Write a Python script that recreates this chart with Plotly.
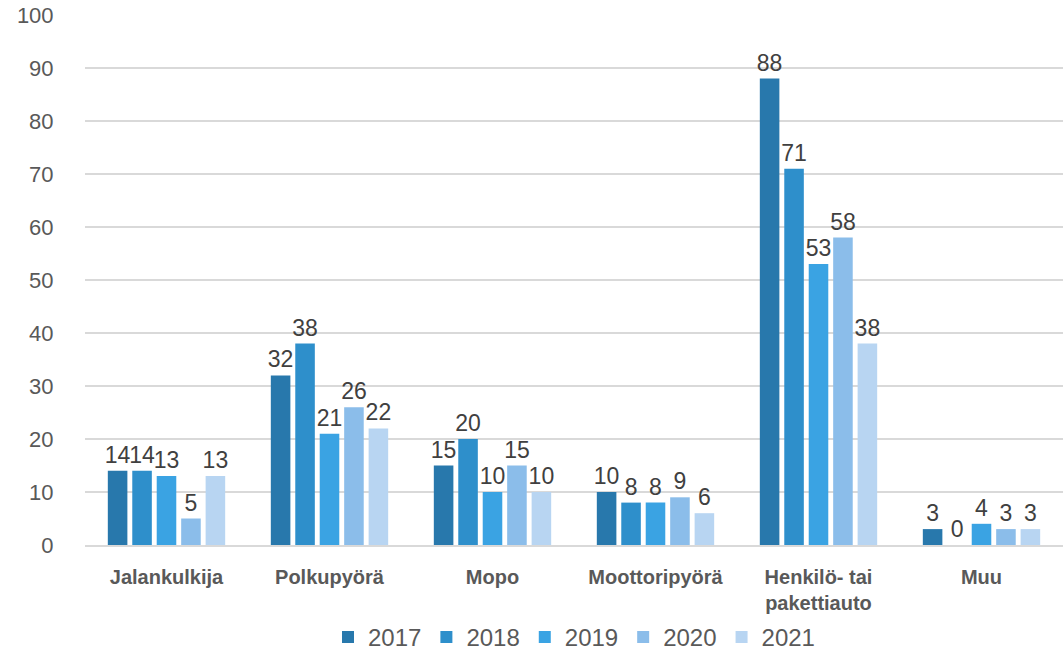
import plotly.graph_objects as go

categories = ["Jalankulkija", "Polkupyörä", "Mopo", "Moottoripyörä", "Henkilö- tai<br>pakettiauto", "Muu"]
years = ["2017", "2018", "2019", "2020", "2021"]
values = {
    "2017": [14, 32, 15, 10, 88, 3],
    "2018": [14, 38, 20, 8, 71, 0],
    "2019": [13, 21, 10, 8, 53, 4],
    "2020": [5, 26, 15, 9, 58, 3],
    "2021": [13, 22, 10, 6, 38, 3],
}
colors = ["#2878AC", "#2E8FCB", "#3AA3E3", "#8BBDEA", "#B8D5F2"]

FONT = "Liberation Sans, Arial, sans-serif"

fig = go.Figure()
for y, c in zip(years, colors):
    fig.add_trace(go.Bar(
        x=categories, y=values[y], name=y,
        marker=dict(color=c, line=dict(width=0)),
        text=[str(v) for v in values[y]], textposition="outside",
        constraintext="none",
        textfont=dict(size=23, color="#404040", family=FONT),
        cliponaxis=False,
    ))

fig.update_layout(
    width=1063, height=653,
    barmode="group", bargap=0.25, bargroupgap=0.2,
    plot_bgcolor="white", paper_bgcolor="white",
    font=dict(family=FONT, color="#595959"),
    margin=dict(l=85, r=0, t=15, b=108),
    legend=dict(orientation="h", x=0.5, xanchor="center",
                yref="container", y=0.024, yanchor="middle",
                bgcolor="rgba(0,0,0,0)",
                font=dict(size=24, color="#595959"), traceorder="normal",
                itemwidth=30),
)
fig.update_yaxes(range=[0, 100], dtick=10, showgrid=True, gridcolor="#D9D9D9", gridwidth=1.5,
                 zeroline=False, showline=False, tickfont=dict(size=22, color="#595959"),
                 ticks="outside", ticklen=26, tickcolor="rgba(0,0,0,0)", automargin=False)
fig.update_xaxes(showline=True, linecolor="#D9D9D9", linewidth=1.5,
                 tickfont=dict(size=20, color="#595959", family=FONT),
                 ticks="outside", ticklen=13, tickcolor="rgba(0,0,0,0)", automargin=False)
fig.update_xaxes(ticktext=["<b>" + c + "</b>" for c in categories], tickvals=categories)

fig.write_html("out.html", post_script="document.body.style.margin='0';",
               config={"displayModeBar": False})
